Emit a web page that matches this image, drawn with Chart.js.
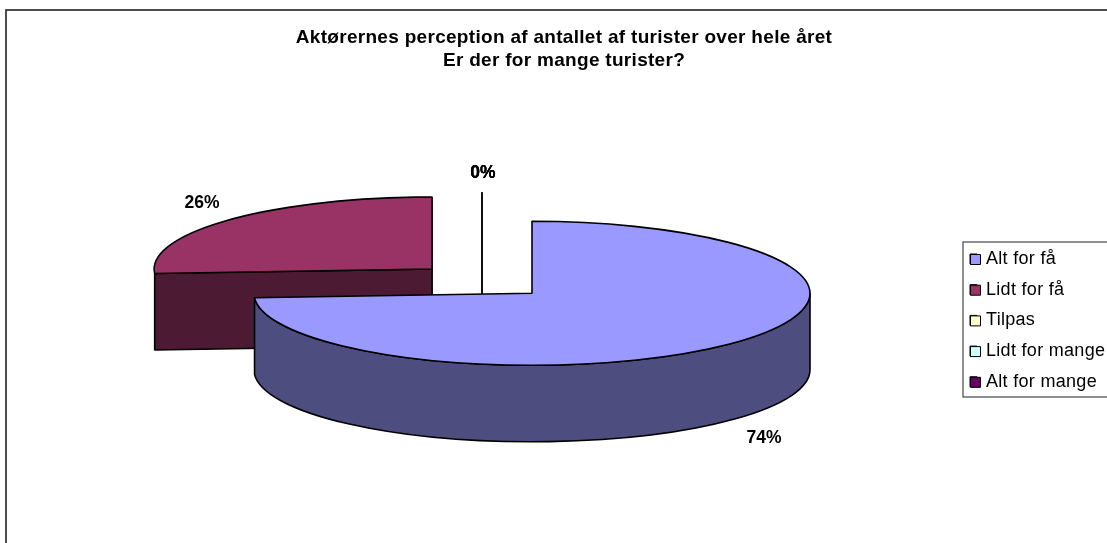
<!DOCTYPE html>
<html lang="da">

<head>
    <meta charset="UTF-8">
    <title>Aktørernes perception</title>
    <script src="https://cdn.jsdelivr.net/npm/chart.js"></script>
    <style>
        html, body { margin: 0; padding: 0; background: #fff; overflow: hidden; }
        canvas { display: block; }
    </style>
</head>

<body>
    <canvas id="chart1" width="1107" height="543"></canvas>

    <script>
        // data
        const titleLines = ['Aktørernes perception af antallet af turister over hele året', 'Er der for mange turister?'];
        const categories = ['Alt for få', 'Lidt for få', 'Tilpas', 'Lidt for mange', 'Alt for mange'];
        const values = [74, 26, 0, 0, 0];

        // colours
        const sliceColors = ['#9999FF', '#993366', '#FFFFCC', '#CCFFFF', '#660066'];
        const wallColors = ['#4D4D80', '#4D1A33', '#80806A', '#6A8080', '#330033'];

        // tilted pie geometry
        const pie = { x: 532, y: 293.3, radius: 278, squash: 72 / 278, depth: 76.5 };
        const explodedBy = [0, 137, 0, 0, 0];
        const emptySliceShift = { x: -50, y: -29 };
        const paintOrder = [1, 2, 3, 4, 0];
        const fontFamily = '"Liberation Sans", Arial, sans-serif';
        const edgeWidth = 1.6;

        // legend layout
        const legendPadding = 12.7;
        const legendFontSize = 18;

        // where the top face of a slice ends up after the tilt
        function sliceCenter(arc, i) {
            if (values[i] === 0) {
                return { x: pie.x + emptySliceShift.x, y: pie.y + emptySliceShift.y };
            }
            const mid = (arc.startAngle + arc.endAngle) / 2;
            return {
                x: pie.x + Math.cos(mid) * explodedBy[i],
                y: pie.y + Math.sin(mid) * explodedBy[i] * pie.squash
            };
        }

        function drawWall(ctx, arc, c, color) {
            const ry = pie.radius * pie.squash;
            ctx.fillStyle = color;
            ctx.strokeStyle = '#000';
            ctx.lineWidth = edgeWidth;
            ctx.lineJoin = 'bevel';

            // round part, only the front half of the rim shows
            const a0 = Math.max(arc.startAngle, 0);
            const a1 = Math.min(arc.endAngle, Math.PI);
            if (a1 - a0 > 0.1) {
                ctx.beginPath();
                ctx.ellipse(c.x, c.y, pie.radius, ry, 0, a0, a1);
                ctx.ellipse(c.x, c.y + pie.depth, pie.radius, ry, 0, a1, a0, true);
                ctx.closePath();
                ctx.fill();
                ctx.stroke();
            }

            // flat cut face, seen when the slice starts on the left side
            if (Math.cos(arc.startAngle) < -0.01) {
                const px = c.x + Math.cos(arc.startAngle) * pie.radius;
                const py = c.y + Math.sin(arc.startAngle) * ry;
                ctx.beginPath();
                ctx.moveTo(c.x, c.y);
                ctx.lineTo(px, py);
                ctx.lineTo(px, py + pie.depth);
                ctx.lineTo(c.x, c.y + pie.depth);
                ctx.closePath();
                ctx.fill();
                ctx.stroke();
            }
        }

        function drawTop(ctx, arc, c) {
            const ry = pie.radius * pie.squash;
            ctx.save();
            ctx.translate(c.x, c.y);
            ctx.scale(1, pie.squash);
            ctx.translate(-arc.x, -arc.y);
            arc.draw(ctx);
            ctx.restore();

            // outline is stroked without the squash so its width stays even
            ctx.strokeStyle = '#000';
            ctx.lineWidth = edgeWidth;
            ctx.beginPath();
            ctx.moveTo(c.x, c.y);
            ctx.ellipse(c.x, c.y, pie.radius, ry, 0, arc.startAngle, arc.endAngle);
            ctx.closePath();
            ctx.stroke();
        }

        // a 0% slice has no area, all that shows is its edge
        function drawEmptySlice(ctx, arc, c) {
            const ry = pie.radius * pie.squash;
            const topY = c.y + Math.sin(arc.startAngle) * ry;
            ctx.strokeStyle = '#000';
            ctx.lineWidth = 1.2;
            ctx.beginPath();
            ctx.moveTo(c.x, topY);
            ctx.lineTo(c.x, c.y + pie.depth);
            ctx.stroke();
        }

        function drawValueLabel(ctx, arc, c, i) {
            const ry = pie.radius * pie.squash;
            const total = values.reduce((a, b) => a + b, 0);
            const mid = (arc.startAngle + arc.endAngle) / 2;
            const empty = values[i] === 0;
            const lx = c.x + Math.cos(mid) * pie.radius * 1.14 + 1;
            let ly = c.y + Math.sin(mid) * ry * (empty ? 1.26 : 1.33);
            if (Math.sin(mid) > 0) {
                ly += pie.depth + 3;
            }
            ctx.fillStyle = '#000';
            ctx.font = 'bold 17.5px ' + fontFamily;
            ctx.textAlign = 'center';
            ctx.textBaseline = 'middle';
            ctx.fillText(Math.round(values[i] / total * 100) + '%', lx, ly);
        }

        const tiltedPie = {
            id: 'tiltedPie',
            afterLayout(chart) {
                // legend sits in its own box at the right edge
                const legend = chart.legend;
                legend.left = 970 - legendPadding;
                legend.top = 250 - legendPadding;
            },
            beforeDatasetDraw(chart) {
                const ctx = chart.ctx;
                const arcs = chart.getDatasetMeta(0).data;
                ctx.letterSpacing = '0px';
                paintOrder.forEach(i => {
                    const c = sliceCenter(arcs[i], i);
                    if (values[i] === 0) {
                        drawEmptySlice(ctx, arcs[i], c);
                    } else {
                        drawWall(ctx, arcs[i], c, wallColors[i]);
                        drawTop(ctx, arcs[i], c);
                    }
                });
                paintOrder.forEach(i => drawValueLabel(ctx, arcs[i], sliceCenter(arcs[i], i), i));
                return false;
            },
            beforeDraw(chart) {
                // chart frame and legend frame
                const ctx = chart.ctx;
                ctx.strokeStyle = '#222';
                ctx.lineWidth = 1.6;
                ctx.strokeRect(6, 10, 1200, 700);
                ctx.strokeStyle = '#444';
                ctx.lineWidth = 1.2;
                ctx.strokeRect(963, 242, 300, 155);
                // the chart text runs a little wide
                ctx.letterSpacing = '0.3px';
            },
            afterDraw(chart) {
                // swatches are wider than the gap the legend leaves for them
                const ctx = chart.ctx;
                const legend = chart.legend;
                ctx.lineWidth = 1;
                ctx.strokeStyle = '#000';
                categories.forEach((name, i) => {
                    const y = legend.top + legendPadding + i * (legendFontSize + legendPadding) + legendFontSize / 2 - 5;
                    ctx.fillStyle = sliceColors[i];
                    ctx.fillRect(970.5, y + 0.5, 10, 10);
                    ctx.strokeRect(970.5, y + 0.5, 10, 10);
                });
            }
        };

        new Chart(document.getElementById('chart1').getContext('2d'), {
            type: 'pie',
            data: {
                labels: categories,
                datasets: [{
                    data: values,
                    backgroundColor: sliceColors,
                    borderWidth: 0,
                    radius: pie.radius
                }]
            },
            options: {
                responsive: false,
                animation: false,
                layout: { padding: { left: 21 } },
                events: [],
                plugins: {
                    title: {
                        display: true,
                        text: titleLines,
                        color: '#000',
                        font: { family: fontFamily, size: 19, weight: 'bold', lineHeight: 1.21 },
                        padding: { top: 26, bottom: 20 }
                    },
                    legend: {
                        position: 'right',
                        align: 'start',
                        labels: {
                            color: '#000',
                            font: { family: fontFamily, size: legendFontSize },
                            boxWidth: 7,
                            boxHeight: 10,
                            padding: legendPadding,
                            generateLabels: () => categories.map((text, i) => ({
                                text: text,
                                fillStyle: sliceColors[i],
                                strokeStyle: '#000',
                                lineWidth: 1,
                                index: i
                            }))
                        }
                    },
                    tooltip: { enabled: false }
                }
            },
            plugins: [tiltedPie]
        });
    </script>
</body>

</html>
